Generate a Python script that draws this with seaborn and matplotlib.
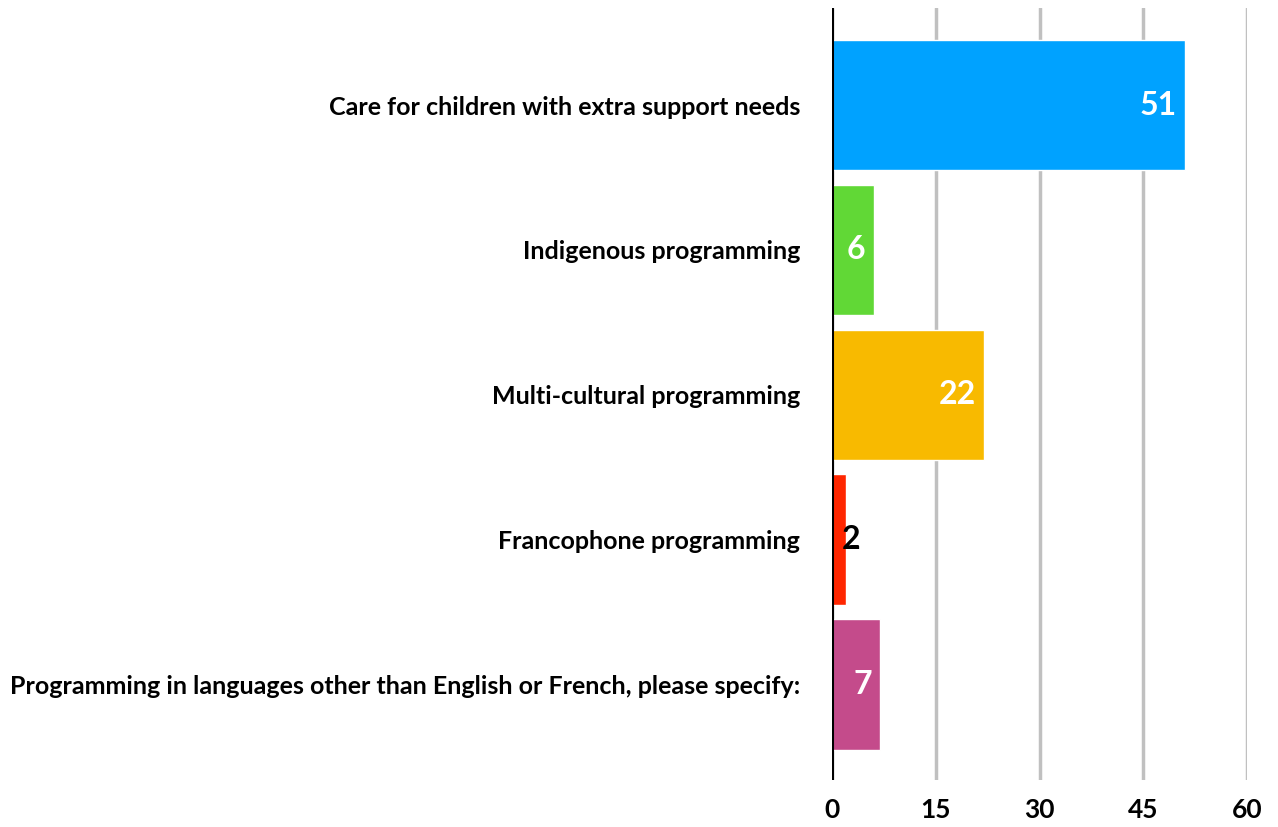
import pandas as pd
import matplotlib.pyplot as plt
import seaborn as sns

categories = [
    'Care for children with extra support needs',
    'Indigenous programming',
    'Multi-cultural programming',
    'Francophone programming',
    'Programming in languages other than English or French, please specify:',
]
counts = [51, 6, 22, 2, 7]
colors = ['#00A2FF', '#61D836', '#F8BA00', '#FF2600', '#C44B8B']
x_ticks = [0, 15, 30, 45, 60]

df = pd.DataFrame({'category': categories, 'count': counts})

sns.set_style('white')
plt.rcParams['font.family'] = ['Lato', 'DejaVu Sans']
plt.rcParams['font.weight'] = 'bold'
plt.rcParams['text.color'] = 'black'
plt.rcParams['xtick.color'] = 'black'
plt.rcParams['ytick.color'] = 'black'

fig = plt.figure(figsize=(12.78, 8.27), dpi=100)
ax = fig.add_axes([832 / 1278, 47 / 827, 415 / 1278, 772 / 827])

sns.barplot(data=df, y='category', x='count', hue='category', palette=colors,
            legend=False, width=0.9, saturation=1, ax=ax)

ax.set_xlim(0, 60)
ax.set_ylim(4.66, -0.67)
ax.set_xticks(x_ticks)
ax.grid(axis='x', color='#C0C0C0', linewidth=2.5)
ax.set_axisbelow(True)
ax.axvline(0, color='black', linewidth=2.2, zorder=5)
for s in ax.spines.values():
    s.set_visible(False)

ax.set_xlabel('')
ax.set_ylabel('')
ax.tick_params(axis='x', length=0, pad=13, labelsize=19)
ax.tick_params(axis='y', length=0, pad=23, labelsize=18)
for lbl in ax.get_xticklabels() + ax.get_yticklabels():
    lbl.set_fontweight('bold')

# value labels
for i, v in enumerate(counts):
    if v < 4:
        ax.annotate(str(v), (v, i), xytext=(-3, 0), textcoords='offset points',
                    ha='left', va='center', fontsize=23, fontweight='bold', color='black')
    else:
        ax.annotate(str(v), (v, i), xytext=(-6, 0), textcoords='offset points',
                    ha='right', va='center', fontsize=23, fontweight='bold', color='white')

plt.savefig('out.png', dpi=100)
plt.close()
